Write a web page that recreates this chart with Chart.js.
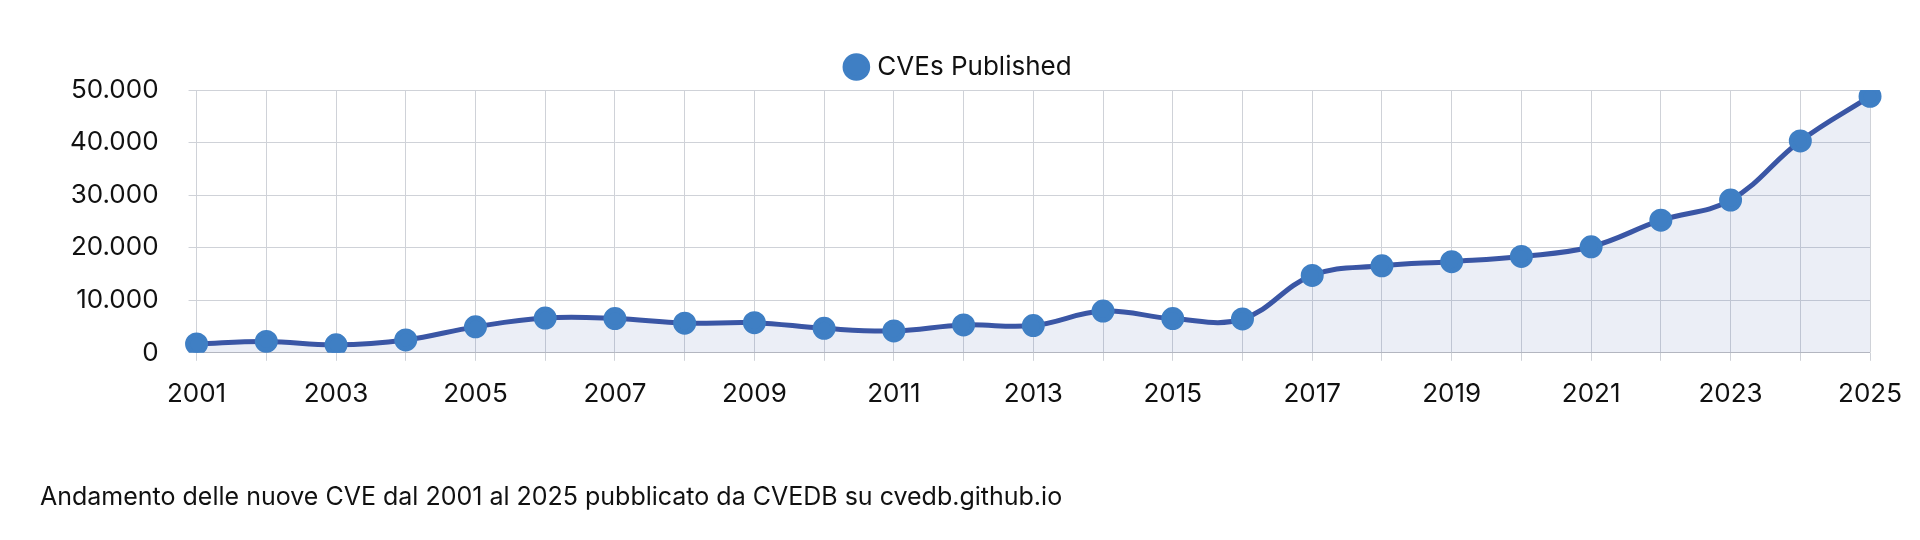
<!DOCTYPE html>
<html><head><meta charset="utf-8">
<script src="https://cdn.jsdelivr.net/npm/chart.js@4/dist/chart.umd.min.js"></script>
<style>html,body{margin:0;padding:0;background:#fff;}</style>
</head><body>
<canvas id="c" width="1920" height="540"></canvas>
<script>
const years = ['2001','2002','2003','2004','2005','2006','2007','2008','2009','2010','2011','2012','2013','2014','2015','2016','2017','2018','2019','2020','2021','2022','2023','2024','2025'];
const cves = [1677,2156,1527,2451,4935,6610,6520,5632,5736,4652,4155,5297,5191,7939,6504,6454,14714,16557,17344,18325,20171,25227,29065,40303,48800];
const yTicks = [0,10000,20000,30000,40000,50000];
Chart.defaults.font.family = 'Inter, "Open Sans", sans-serif';
Chart.defaults.color = '#111';
new Chart(document.getElementById('c'), {
  type: 'line',
  data: { labels: years, datasets: [{
    label: 'CVEs Published', data: cves,
    borderColor: '#3a56a5', backgroundColor: 'rgba(58,86,165,0.1)',
    pointBackgroundColor: '#3f7fc4', pointBorderColor: '#3f7fc4',
    pointRadius: 9, borderWidth: 5, fill: true, tension: 0.4
  }]},
  options: {
    responsive: false, animation: false,
    layout: { padding: { left: 40, right: 40, top: 14, bottom: 22 } },
    plugins: {
      legend: { labels: { usePointStyle: true, pointStyle: 'circle', boxWidth: 16, boxHeight: 16, font: { size: 26 }, padding: 40 } },
      title: { display: true, position: 'bottom', align: 'start', text: 'Andamento delle nuove CVE dal 2001 al 2025 pubblicato da CVEDB su cvedb.github.io', font: { size: 25, weight: 'normal' }, padding: { top: 54, bottom: 6 }, color: '#111' }
    },
    scales: {
      x: { grid: { color: '#cfd2d8' }, ticks: { font: { size: 26 }, maxRotation: 0, autoSkip: false, padding: 18,
        callback: function(v, i) { return i % 2 === 0 ? this.getLabelForValue(v) : ''; } } },
      y: { min: 0, max: 50000, afterBuildTicks: a => { a.ticks = yTicks.map(v => ({ value: v })); }, grid: { color: '#cfd2d8' }, border: { display: false },
        ticks: { font: { size: 26 }, padding: 30, callback: v => v.toLocaleString('it-IT') } }
    }
  }
});
</script>
</body></html>
